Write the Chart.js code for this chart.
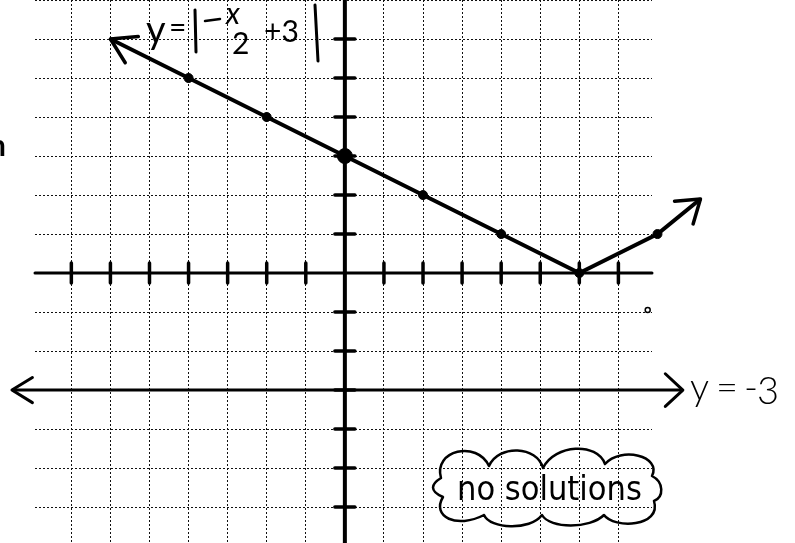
<!DOCTYPE html>
<html>
<head>
<meta charset="utf-8">
<title>y = |-x/2 + 3| and y = -3</title>
<script src="https://cdn.jsdelivr.net/npm/chart.js@4.4.1/dist/chart.umd.min.js"></script>
<style>
  html, body { margin: 0; padding: 0; background: #fff; }
  canvas { display: block; }
</style>
</head>
<body>
<canvas id="graph" width="795" height="543"></canvas>
<script>
// plotted points of y = |-x/2 + 3|, arrow ends included
var curveX = [-6, -4, -2, 0, 2, 4, 6, 8, 9.1];
var curveY = [6, 5, 4, 3, 2, 1, 0, 1, 1.9];
// the marked dots along the curve
var dotX = [-4, -2, 0, 2, 4, 6, 8];
var dotY = [5, 4, 3, 2, 1, 0, 1];
// horizontal line y = -3, drawn past the grid on both sides
var lineX = [-8.52, 8.65];
var lineY = [-3, -3];
// stray pencil dot
var strayX = [7.75];
var strayY = [-0.95];
// integer grid / tick marks
var gridTicks = [-7, -6, -5, -4, -3, -2, -1, 0, 1, 2, 3, 4, 5, 6, 7];
// visible window of the grid paper
var xRange = [-7.93, 7.86];
var yRange = [-6.92, 7.0];

function pts(xs, ys) {
  return xs.map(function(x, i) { return {x: x, y: ys[i]}; });
}

function arrowHead(ctx, tip, from, len, spread) {
  var a = Math.atan2(tip.y - from.y, tip.x - from.x);
  ctx.beginPath();
  ctx.moveTo(tip.x - len * Math.cos(a - spread), tip.y - len * Math.sin(a - spread));
  ctx.lineTo(tip.x, tip.y);
  ctx.lineTo(tip.x - len * Math.cos(a + spread), tip.y - len * Math.sin(a + spread));
  ctx.stroke();
}

// cloud outline round the note
function cloud(ctx, l, t, r, b) {
  ctx.beginPath();
  ctx.moveTo(l + 4, t + 24);
  ctx.bezierCurveTo(l - 4, t - 4, l + 40, t - 14, l + 52, t + 12);
  ctx.bezierCurveTo(l + 62, t - 10, l + 100, t - 8, l + 106, t + 14);
  ctx.bezierCurveTo(l + 118, t - 10, l + 160, t - 12, l + 168, t + 10);
  ctx.bezierCurveTo(l + 184, t - 8, r + 2, t + 2, r - 8, t + 22);
  ctx.bezierCurveTo(r + 4, t + 28, r + 4, b - 26, r - 6, b - 22);
  ctx.bezierCurveTo(r + 2, b + 4, r - 46, b + 6, r - 56, b - 8);
  ctx.bezierCurveTo(r - 70, b + 6, r - 110, b + 6, r - 118, b - 8);
  ctx.bezierCurveTo(r - 130, b + 8, r - 170, b + 6, r - 176, b - 8);
  ctx.bezierCurveTo(l + 20, b + 6, l - 6, b - 6, l + 6, b - 26);
  ctx.bezierCurveTo(l - 8, b - 32, l - 6, t + 30, l + 4, t + 24);
  ctx.stroke();
}

var sketch = {
  id: 'sketch',
  afterDatasetsDraw: function(chart) {
    var ctx = chart.ctx, xs = chart.scales.x, ys = chart.scales.y;
    var area = chart.chartArea;
    var x0 = xs.getPixelForValue(0), y0 = ys.getPixelForValue(0);
    ctx.save();
    ctx.strokeStyle = '#000';
    ctx.fillStyle = '#000';
    ctx.lineCap = 'round';
    ctx.lineJoin = 'round';

    // axes
    ctx.lineWidth = 3;
    ctx.beginPath();
    ctx.moveTo(area.left, y0);
    ctx.lineTo(area.right, y0);
    ctx.stroke();
    ctx.lineWidth = 4;
    ctx.beginPath();
    ctx.moveTo(x0, area.top);
    ctx.lineTo(x0, area.bottom);
    ctx.stroke();

    // tick marks
    ctx.lineWidth = 3.5;
    gridTicks.forEach(function(v) {
      if (v === 0) return;
      var px = xs.getPixelForValue(v);
      ctx.beginPath();
      ctx.moveTo(px, y0 - 10);
      ctx.lineTo(px, y0 + 10);
      ctx.stroke();
      if (v > -7 && v < 7) {
        var py = ys.getPixelForValue(v);
        ctx.beginPath();
        ctx.moveTo(x0 - 10, py);
        ctx.lineTo(x0 + 10, py);
        ctx.stroke();
      }
    });

    // arrow heads on the curve and on y = -3
    var n = curveX.length;
    var p = function(x, y) { return {x: xs.getPixelForValue(x), y: ys.getPixelForValue(y)}; };
    ctx.lineWidth = 3.5;
    arrowHead(ctx, p(curveX[0], curveY[0]), p(curveX[1], curveY[1]), 28, 0.55);
    arrowHead(ctx, p(curveX[n - 1], curveY[n - 1]), p(curveX[n - 2], curveY[n - 2]), 26, 0.6);
    ctx.lineWidth = 3;
    arrowHead(ctx, p(lineX[0], lineY[0]), p(lineX[1], lineY[1]), 24, 0.55);
    arrowHead(ctx, p(lineX[1], lineY[1]), p(lineX[0], lineY[0]), 24, 0.75);

    // equation label
    var hand = 'Lato, "DejaVu Sans", sans-serif';
    ctx.textBaseline = 'alphabetic';
    ctx.textAlign = 'left';
    ctx.font = '400 38px ' + hand;
    ctx.fillText('y', 146, 43);
    ctx.font = '400 30px ' + hand;
    ctx.fillText('=', 169, 38);
    ctx.lineWidth = 3;
    ctx.beginPath(); ctx.moveTo(195, 10); ctx.lineTo(196, 52); ctx.stroke();
    ctx.lineWidth = 2.5;
    ctx.beginPath(); ctx.moveTo(205, 21); ctx.lineTo(220, 19); ctx.stroke();
    ctx.font = 'italic 400 30px ' + hand;
    ctx.fillText('x', 226, 24);
    ctx.font = '400 30px ' + hand;
    ctx.fillText('2', 232, 54);
    ctx.fillText('+3', 264, 42);
    ctx.lineWidth = 3;
    ctx.beginPath(); ctx.moveTo(315, 5); ctx.lineTo(318, 61); ctx.stroke();

    // label of the horizontal line
    ctx.font = '300 38px ' + hand;
    ctx.fillText('y', 690, 400);
    ctx.fillText('=', 716, 400);
    ctx.fillText('-', 744, 400);
    ctx.fillText('3', 757, 404);

    // note in a cloud
    ctx.lineWidth = 2.5;
    cloud(ctx, 437, 454, 660, 523);
    ctx.font = '34px "Liberation Sans Narrow", "DejaVu Sans Condensed", sans-serif';
    ctx.fillText('no solutions', 457, 500);

    // cut-off letter on the left edge
    ctx.font = 'bold 30px ' + hand;
    ctx.fillText('n', -11, 156);
    ctx.restore();
  }
};

function intTicks(scale) {
  scale.ticks = gridTicks.filter(function(v) { return v >= scale.min && v <= scale.max; })
    .map(function(v) { return {value: v}; });
}

function windowOf(range) {
  return function(scale) { scale.min = range[0]; scale.max = range[1]; };
}

new Chart(document.getElementById('graph'), {
  type: 'scatter',
  data: {
    datasets: [
      {label: 'curve', data: pts(curveX, curveY), showLine: true, borderColor: '#000', borderWidth: 4,
       pointRadius: 0, clip: false, tension: 0},
      {label: 'dots', data: pts(dotX, dotY), showLine: false, backgroundColor: '#000', borderColor: '#000',
       pointRadius: function(c) { return c.raw && c.raw.x === 0 ? 7.5 : 4.5; }, clip: false},
      {label: 'y = -3', data: pts(lineX, lineY), showLine: true, borderColor: '#000', borderWidth: 3,
       pointRadius: 0, clip: false},
      {label: 'stray', data: pts(strayX, strayY), showLine: false, backgroundColor: '#fff', borderColor: '#000',
       borderWidth: 1.5, pointRadius: 2.5}
    ]
  },
  options: {
    responsive: false,
    animation: false,
    layout: {autoPadding: false, padding: {left: 35, right: 143, top: 0, bottom: 0}},
    plugins: {legend: {display: false}, tooltip: {enabled: false}},
    scales: {
      x: {
        type: 'linear',
        bounds: 'data',
        afterDataLimits: windowOf(xRange),
        afterBuildTicks: intTicks,
        ticks: {display: false},
        border: {display: false, dash: [2, 2]},
        grid: {color: '#111', lineWidth: 1, drawTicks: false}
      },
      y: {
        type: 'linear',
        bounds: 'data',
        afterDataLimits: windowOf(yRange),
        afterBuildTicks: intTicks,
        ticks: {display: false},
        border: {display: false, dash: [2, 2]},
        grid: {color: '#111', lineWidth: 1, drawTicks: false}
      }
    }
  },
  plugins: [sketch]
});
</script>
</body>
</html>
